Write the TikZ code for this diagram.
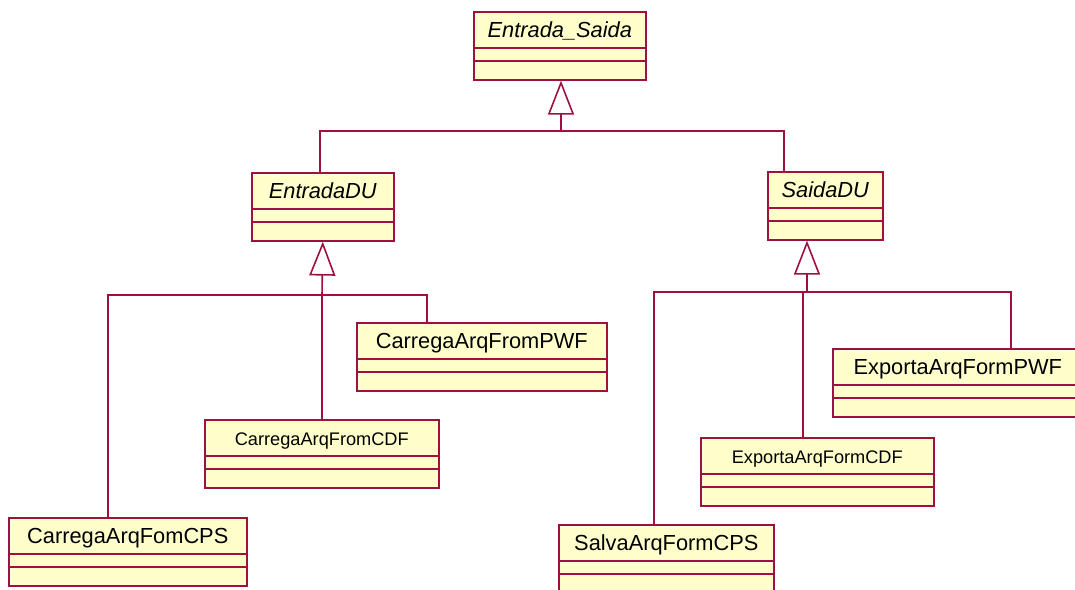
\documentclass[tikz,border=0pt]{standalone}
\usepackage{fontspec}
\setmainfont{Liberation Sans}
\usepackage{tikz}
\usetikzlibrary{arrows.meta}
\usetikzlibrary{positioning}
\definecolor{roseline}{RGB}{158, 16, 66}
\definecolor{rosefill}{RGB}{255, 255, 204}
% one class box: name, top left corner, width, text style, label
\newcommand{\mClassBox}[5]{%
  \node [classbox, minimum width=#3, anchor=north west] (#1) at (#2) {};
  \node [#4, anchor=base] (#1-t) at ([yshift=-26pt]#1.north) {#5};
  \draw [classline] ([yshift=-37pt]#1.north west) -- ([yshift=-37pt]#1.north east);
  \draw [classline] ([yshift=-50pt]#1.north west) -- ([yshift=-50pt]#1.north east);
}

\begin{document}
\begin{tikzpicture}[%
    x=1pt, y=-1pt,            % pixel like coordinates, top-down
    line join=miter,
    ]
% -------------------------------------------------
% A few box styles
\tikzset{
  classbox/.style={draw=roseline, fill=rosefill, line width=1.6pt, rectangle,
                   minimum height=68pt, inner sep=0pt},
  classline/.style={draw=roseline, line width=1.6pt},
  bigtxt/.style={font=\fontsize{21.8}{24}\selectfont, inner sep=0pt},
  smalltxt/.style={font=\fontsize{18.2}{20}\selectfont, inner sep=0pt},
  abstxt/.style={bigtxt, font=\fontsize{21.8}{24}\selectfont\itshape},
  % -------------------------------------------------
  genline/.style={draw=roseline, line width=1.6pt},
  gen/.style={genline, -{Triangle[open, fill=white, length=34pt, width=26pt]}},
  }
\useasboundingbox (0,0) rectangle (1075,589);
\clip (0,0) rectangle (1075,589);
% -------------------------------------------------
% Start by placing the classes
\mClassBox{es}{473,11}{172pt}{abstxt}{Entrada\_Saida}
\mClassBox{edu}{251,172}{142pt}{abstxt}{EntradaDU}
\mClassBox{sdu}{767,171}{115pt}{abstxt}{SaidaDU}

\mClassBox{cpwf}{356,322}{250pt}{bigtxt}{CarregaArqFromPWF}
\mClassBox{ccdf}{204,419}{234pt}{smalltxt}{CarregaArqFromCDF}
\mClassBox{ccps}{8,517}{238pt}{bigtxt}{CarregaArqFomCPS}

\mClassBox{epwf}{832,348}{250pt}{bigtxt}{ExportaArqFormPWF}
\mClassBox{ecdf}{700,437}{233pt}{smalltxt}{ExportaArqFormCDF}
\mClassBox{scps}{558,524}{215pt}{bigtxt}{SalvaArqFormCPS}

% -------------------------------------------------
% join points of the generalisation trees
\coordinate (es-join) at (561,131);
\coordinate (edu-join) at (322,295);
\coordinate (sdu-join) at (807,292);

\draw [gen] (es-join) -- (es-join |- es.south);
\draw [genline] ([xshift=-3pt]edu.north) |- (es-join);
\draw [genline] ([xshift=-41.5pt]sdu.north) |- (es-join);

\draw [gen] (edu-join) -- (edu.south);
\draw [genline] ([xshift=-20pt]ccps.north) |- (edu-join);
\draw [genline] (ccdf.north) |- (edu-join);
\draw [genline] ([xshift=-55pt]cpwf.north) |- (edu-join);

\draw [gen] (sdu-join) -- (sdu-join |- sdu.south);
\draw [genline] ([xshift=-12.5pt]scps.north) |- (sdu-join);
\draw [genline] ([xshift=-14.5pt]ecdf.north) |- (sdu-join);
\draw [genline] ([xshift=53pt]epwf.north) |- (sdu-join);
% -------------------------------------------------
\end{tikzpicture}
\end{document}
